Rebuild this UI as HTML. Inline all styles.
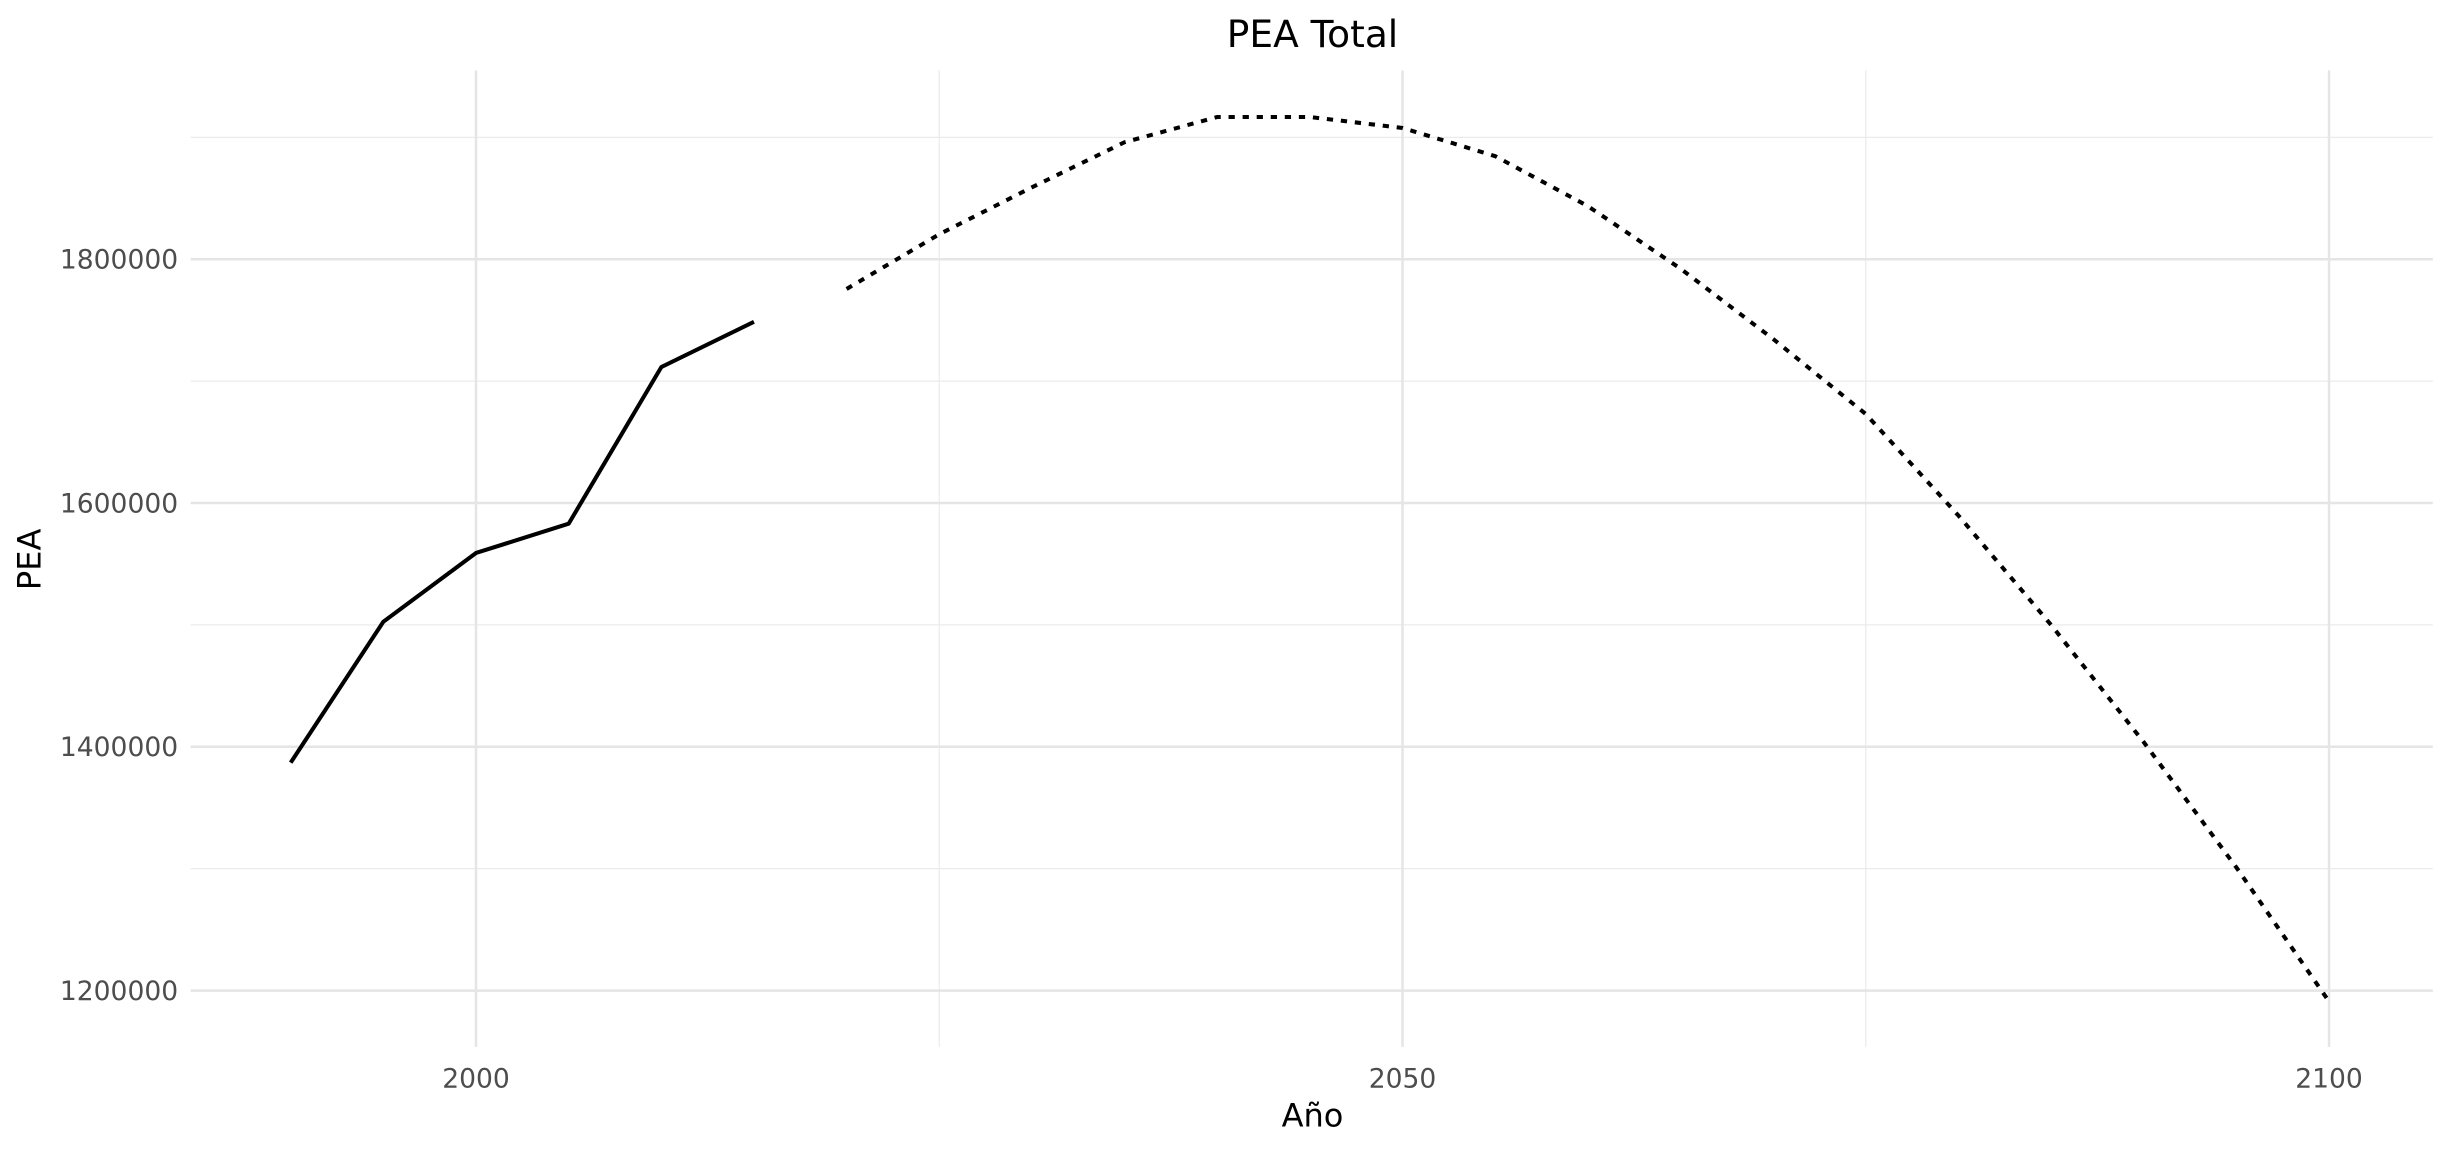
<!DOCTYPE html>
<html><head><meta charset="utf-8"><style>
html,body{margin:0;padding:0;background:#fff;}
svg{display:block;font-family:"DejaVu Sans","Liberation Sans",sans-serif;}
</style></head><body>
<svg id="chart" width="2450" height="1150" viewBox="0 0 1568 736" xmlns="http://www.w3.org/2000/svg">
<g id="grid"></g>
<g id="series"></g>
<g id="axes"></g>
<text x="840" y="30" font-size="24" text-anchor="middle" fill="#000">PEA Total</text>
<text x="840" y="721" font-size="20.5" text-anchor="middle" fill="#000">Año</text>
<text transform="translate(26,358) rotate(-90)" font-size="20.5" text-anchor="middle" fill="#000">PEA</text>
</svg>
<script>
const histYears=[1990,1995,2000,2005,2010,2015];
const histValues=[1387000,1502600,1559000,1583000,1711500,1748700];
const projYears=[2020,2025,2030,2035,2040,2045,2050,2055,2060,2065,2070,2075,2080,2085,2090,2095,2100];
const projValues=[1775600,1820500,1859000,1896000,1916700,1916700,1907700,1884600,1843600,1792300,1734600,1673000,1589700,1500000,1403800,1301000,1191000];
const xTicks=[2000,2050,2100];
const xMinor=[2025,2075];
const yTicks=[1200000,1400000,1600000,1800000];
const yMinor=[1300000,1500000,1700000,1900000];

const L=122,R=1557,T=45,B=670;
const X0=1984.6,X1=2105.6,Y0=1153800,Y1=1955000;
const sx=v=>L+(v-X0)/(X1-X0)*(R-L);
const sy=v=>B-(v-Y0)/(Y1-Y0)*(B-T);
const NS="http://www.w3.org/2000/svg";
function mk(tag,attrs,parent){const e=document.createElementNS(NS,tag);for(const k in attrs)e.setAttribute(k,attrs[k]);parent.appendChild(e);return e;}
const grid=document.getElementById('grid'),axes=document.getElementById('axes'),series=document.getElementById('series');
yMinor.forEach(v=>{const l=mk('line',{x1:L,x2:R,y1:sy(v),y2:sy(v),stroke:'#ebebeb','stroke-width':0.8},grid);

});
xMinor.forEach(v=>{const l=mk('line',{x1:sx(v),x2:sx(v),y1:T,y2:B,stroke:'#ebebeb','stroke-width':0.8},grid);

});
yTicks.forEach(v=>{const l=mk('line',{x1:L,x2:R,y1:sy(v),y2:sy(v),stroke:'#e5e5e5','stroke-width':1.6},grid);


const t=mk('text',{x:L-8,y:sy(v)+6,'font-size':17,'text-anchor':'end',fill:'#4d4d4d'},axes);t.textContent=v;

});
xTicks.forEach(v=>{const l=mk('line',{x1:sx(v),x2:sx(v),y1:T,y2:B,stroke:'#e5e5e5','stroke-width':1.6},grid);


const t=mk('text',{x:sx(v),y:696,'font-size':17,'text-anchor':'middle',fill:'#4d4d4d'},axes);t.textContent=v;

});
const hp=mk('polyline',{points:histYears.map((y,i)=>sx(y)+','+sy(histValues[i])).join(' '),fill:'none',stroke:'#000','stroke-width':2.6,'stroke-linejoin':'round'},series);


const pp=mk('polyline',{points:projYears.map((y,i)=>sx(y)+','+sy(projValues[i])).join(' '),fill:'none',stroke:'#000','stroke-width':2.6,'stroke-dasharray':'4,5'},series);


</script>
</body></html>
